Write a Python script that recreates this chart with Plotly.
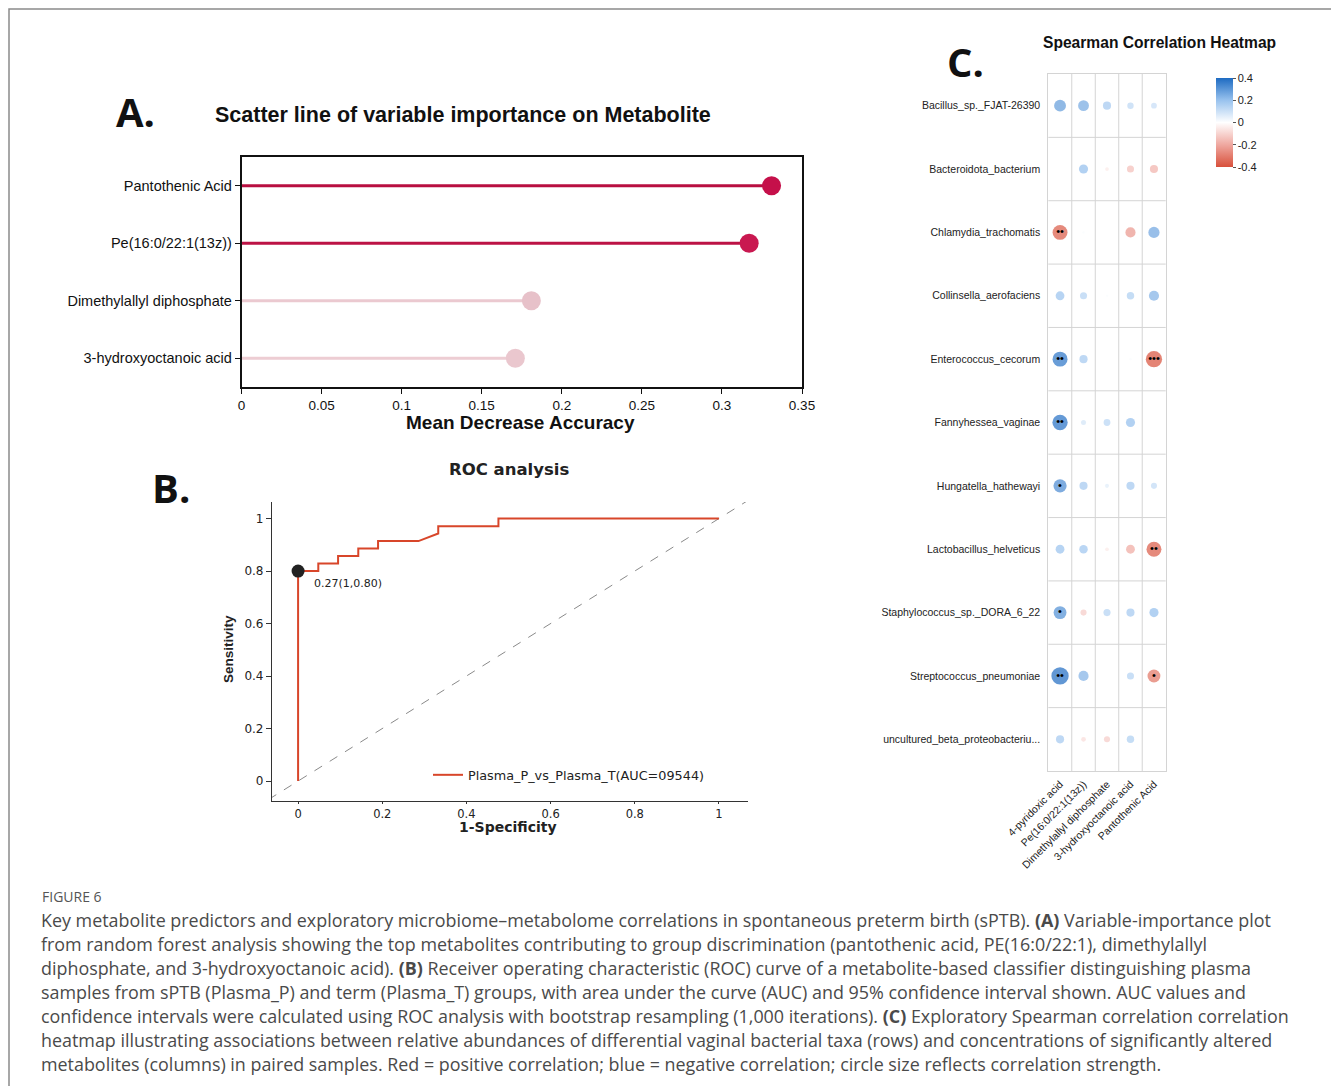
import plotly.graph_objects as go

W, H = 1331, 1086


def px(x):
    return x / W


def py(y):
    return 1 - y / H


# ---------------- Panel A data ----------------
metabolites_A = ["Pantothenic Acid", "Pe(16:0/22:1(13z))",
                 "Dimethylallyl diphosphate", "3-hydroxyoctanoic acid"]
mda_values = [0.331, 0.317, 0.181, 0.171]
dot_colors_A = ["#C5104A", "#C91850", "#E7C1C9", "#EAC7CE"]
stem_colors_A = ["#B80E40", "#BC1245", "#EBC9D0", "#EDCDD3"]
ticks_A = [0, 0.05, 0.1, 0.15, 0.2, 0.25, 0.3, 0.35]
ticklabels_A = ["0", "0.05", "0.1", "0.15", "0.2", "0.25", "0.3", "0.35"]

# ---------------- Panel B data ----------------
roc_fpr = [0, 0, 0.048, 0.048, 0.095, 0.095, 0.143, 0.143, 0.190, 0.190,
           0.286, 0.333, 0.333, 0.476, 0.476, 1.0]
roc_tpr = [0, 0.800, 0.800, 0.829, 0.829, 0.857, 0.857, 0.886, 0.886, 0.914,
           0.914, 0.943, 0.971, 0.971, 1.0, 1.0]
cutoff_fpr = [0]
cutoff_tpr = [0.80]
cutoff_label = "0.27(1,0.80)"
roc_name = "Plasma_P_vs_Plasma_T(AUC=09544)"
ref_line = [-0.07, 1.07]
ticks_B = [0, 0.2, 0.4, 0.6, 0.8, 1]
ticklabels_B = ["0", "0.2", "0.4", "0.6", "0.8", "1"]

# ---------------- Panel C data ----------------
taxa = ["Bacillus_sp._FJAT-26390", "Bacteroidota_bacterium", "Chlamydia_trachomatis",
        "Collinsella_aerofaciens", "Enterococcus_cecorum", "Fannyhessea_vaginae",
        "Hungatella_hathewayi", "Lactobacillus_helveticus", "Staphylococcus_sp._DORA_6_22",
        "Streptococcus_pneumoniae", "uncultured_beta_proteobacteriu..."]
metabolites_C = ["4-pyridoxic acid", "Pe(16:0/22:1(13z))", "Dimethylallyl diphosphate",
                 "3-hydroxyoctanoic acid", "Pantothenic Acid"]
rho = [
    [0.29, 0.26, 0.18, 0.13, 0.11],
    [None, 0.21, -0.05, -0.15, -0.18],
    [-0.38, 0.01, None, -0.24, 0.27],
    [0.20, 0.15, 0.01, 0.16, 0.24],
    [0.38, 0.18, None, 0.01, -0.42],
    [0.39, 0.09, 0.14, 0.21, None],
    [0.33, 0.18, 0.06, 0.18, 0.12],
    [0.20, 0.19, -0.05, -0.20, -0.38],
    [0.32, -0.12, 0.15, 0.18, 0.21],
    [0.45, 0.24, None, 0.15, -0.32],
    [0.18, -0.08, -0.12, 0.16, None],
]
signif = [
    ["", "", "", "", ""],
    ["", "", "", "", ""],
    ["**", "", "", "", ""],
    ["", "", "", "", ""],
    ["**", "", "", "", "***"],
    ["**", "", "", "", ""],
    ["*", "", "", "", ""],
    ["", "", "", "", "**"],
    ["*", "", "", "", ""],
    ["**", "", "", "", "*"],
    ["", "", "", "", ""],
]
cbar_vals = [0.4, 0.2, 0, -0.2, -0.4]
cbar_text = ["0.4", "0.2", "0", "-0.2", "-0.4"]

caption_head = "FIGURE 6"
caption_lines = [
    "Key metabolite predictors and exploratory microbiome\u2013metabolome correlations in spontaneous preterm birth (sPTB). <b>(A)</b> Variable-importance plot",
    "from random forest analysis showing the top metabolites contributing to group discrimination (pantothenic acid, PE(16:0/22:1), dimethylallyl",
    "diphosphate, and 3-hydroxyoctanoic acid). <b>(B)</b> Receiver operating characteristic (ROC) curve of a metabolite-based classifier distinguishing plasma",
    "samples from sPTB (Plasma_P) and term (Plasma_T) groups, with area under the curve (AUC) and 95% confidence interval shown. AUC values and",
    "confidence intervals were calculated using ROC analysis with bootstrap resampling (1,000 iterations). <b>(C)</b> Exploratory Spearman correlation correlation",
    "heatmap illustrating associations between relative abundances of differential vaginal bacterial taxa (rows) and concentrations of significantly altered",
    "metabolites (columns) in paired samples. Red = positive correlation; blue = negative correlation; circle size reflects correlation strength.",
]

ARIAL = "Liberation Sans, Arial, sans-serif"
DEJAVU = "DejaVu Sans, Verdana, sans-serif"

fig = go.Figure()

# ---- Panel A: lollipop ----
fig.add_trace(go.Bar(
    x=mda_values, y=metabolites_A, orientation="h", width=0.055,
    marker=dict(color=stem_colors_A, line=dict(width=0)),
    xaxis="x", yaxis="y", showlegend=False, hoverinfo="skip"))
fig.add_trace(go.Scatter(
    x=mda_values, y=metabolites_A, mode="markers",
    marker=dict(size=19, color=dot_colors_A, line=dict(width=0)),
    xaxis="x", yaxis="y", showlegend=False, cliponaxis=False))

# ---- Panel B: ROC ----
fig.add_trace(go.Scatter(
    x=ref_line, y=ref_line, mode="lines",
    line=dict(color="#8a8a8a", width=1, dash="dash"),
    xaxis="x2", yaxis="y2", showlegend=False, hoverinfo="skip"))
fig.add_trace(go.Scatter(
    x=roc_fpr, y=roc_tpr, mode="lines", name=roc_name,
    line=dict(color="#D8462A", width=2),
    xaxis="x2", yaxis="y2", showlegend=True))
fig.add_trace(go.Scatter(
    x=cutoff_fpr, y=cutoff_tpr, mode="markers",
    marker=dict(size=13, color="#222222"),
    xaxis="x2", yaxis="y2", showlegend=False, cliponaxis=False))

# ---- Panel C: correlation dot heatmap ----
cx, cy, cv, cs = [], [], [], []
sx, sy, st = [], [], []
for i, row in enumerate(rho):
    for j, v in enumerate(row):
        if v is None:
            continue
        cx.append(j)
        cy.append(i)
        cv.append(v)
        cs.append(2 + 34 * abs(v))
        if signif[i][j]:
            sx.append(j)
            sy.append(i)
            st.append("\u2022" * len(signif[i][j]))

colorscale = [[0, "#D8503B"], [0.25, "#EFA8A0"], [0.5, "#FFFFFF"],
              [0.75, "#98C2EE"], [1, "#1E6BC2"]]
fig.add_trace(go.Scatter(
    x=cx, y=cy, mode="markers",
    marker=dict(size=cs, color=cv, colorscale=colorscale, cmin=-0.4, cmax=0.4,
                line=dict(width=0),
                showscale=True,
                colorbar=dict(x=px(1216), xanchor="left", y=py(122.5), yanchor="middle",
                              len=89 / H, lenmode="fraction", thickness=17,
                              outlinewidth=0, xpad=0, ypad=0,
                              tickmode="array", tickvals=cbar_vals, ticktext=cbar_text,
                              ticks="outside", ticklen=3, tickcolor="#555",
                              tickfont=dict(family=ARIAL, size=11, color="#222"))),
    xaxis="x3", yaxis="y3", showlegend=False))
fig.add_trace(go.Scatter(
    x=sx, y=sy, mode="text", text=st, textposition="middle center",
    textfont=dict(family=ARIAL, size=11, color="#000000"),
    xaxis="x3", yaxis="y3", showlegend=False, hoverinfo="skip"))

shapes = []
# panel C cell borders
for k in range(1, 5):
    shapes.append(dict(type="line", xref="x3", yref="y3 domain", x0=k - 0.5, x1=k - 0.5,
                       y0=0, y1=1, line=dict(color="#d4d4d4", width=1), layer="below"))
for k in range(1, 11):
    shapes.append(dict(type="line", xref="x3 domain", yref="y3", x0=0, x1=1,
                       y0=k - 0.5, y1=k - 0.5, line=dict(color="#d4d4d4", width=1), layer="below"))
# page border
shapes.append(dict(type="rect", xref="paper", yref="paper", x0=px(9), x1=px(1340),
                   y0=py(1095), y1=py(9), line=dict(color="#8a8a8a", width=1.5)))

annotations = [
    dict(text="<b>A.</b>", x=px(135), y=py(112), font=dict(family="Open Sans", size=40, color="#111")),
    dict(text="<b>B.</b>", x=px(171), y=py(487), font=dict(family="Open Sans", size=40, color="#111")),
    dict(text="<b>C.</b>", x=px(965), y=py(62), font=dict(family="Open Sans", size=40, color="#111")),
    dict(text="<b>Scatter line of variable importance on Metabolite</b>", x=px(463), y=py(115),
         font=dict(family=ARIAL, size=21.5, color="#111")),
    dict(text="<b>Mean Decrease Accuracy</b>", x=px(520), y=py(422),
         font=dict(family=ARIAL, size=19, color="#111")),
    dict(text="<b>ROC analysis</b>", x=px(509), y=py(469),
         font=dict(family=DEJAVU, size=16.5, color="#222")),
    dict(text="<b>1-Specificity</b>", x=px(508), y=py(827),
         font=dict(family=DEJAVU, size=14, color="#222")),
    dict(text="<b>Sensitivity</b>", x=px(228), y=py(649), textangle=-90,
         font=dict(family=ARIAL, size=13.5, color="#222")),
    dict(text="<b>Spearman Correlation Heatmap</b>", x=px(1159), y=py(43),
         font=dict(family=ARIAL, size=15.6, color="#111")),
    dict(text=cutoff_label, x=cutoff_fpr[0], y=cutoff_tpr[0], xref="x2", yref="y2",
         xanchor="left", yanchor="middle", xshift=14, yshift=-12,
         font=dict(family=DEJAVU, size=11, color="#222")),
    dict(text=caption_head, x=px(40), y=py(897), xanchor="left",
         font=dict(family="Open Sans", size=14, color="#555")),
]
for k, line in enumerate(caption_lines):
    annotations.append(dict(text=line, x=px(39), y=py(920 + 24 * k), xanchor="left",
                            font=dict(family="Open Sans", size=17.9, color="#4a4a4a")))
for a in annotations:
    a.setdefault("xref", "paper")
    a.setdefault("yref", "paper")
    a.setdefault("showarrow", False)
    a.setdefault("xanchor", "center")
    a.setdefault("yanchor", "middle")

fig.update_layout(
    template="none",
    width=W, height=H, autosize=False,
    margin=dict(l=0, r=0, t=0, b=0, pad=0, autoexpand=False),
    paper_bgcolor="white", plot_bgcolor="white",
    shapes=shapes, annotations=annotations,
    legend=dict(x=px(428), y=py(775), xanchor="left", yanchor="middle",
                bgcolor="rgba(0,0,0,0)", borderwidth=0, itemwidth=30,
                font=dict(family=DEJAVU, size=12.8, color="#222")),
    xaxis=dict(domain=[px(241.5), px(802)], anchor="y", range=[0, 0.35], automargin=False,
               tickmode="array", tickvals=ticks_A, ticktext=ticklabels_A,
               showline=True, mirror=True, linecolor="#111", linewidth=1.5,
               ticks="outside", ticklen=5, tickcolor="#111", showgrid=False, zeroline=False,
               tickfont=dict(family=ARIAL, size=13.5, color="#111")),
    yaxis=dict(domain=[py(387), py(157)], anchor="x", type="category", automargin=False,
               categoryorder="array", categoryarray=metabolites_A, range=[3.5, -0.5],
               showline=True, mirror=True, linecolor="#111", linewidth=1.5,
               ticks="outside", ticklen=5, tickcolor="#111", showgrid=False, zeroline=False,
               tickfont=dict(family=ARIAL, size=14.5, color="#111")),
    xaxis2=dict(domain=[px(272), px(748)], anchor="y2", range=[-0.062, 1.069], automargin=False,
                tickmode="array", tickvals=ticks_B, ticktext=ticklabels_B,
                showline=True, linecolor="#333", linewidth=1.2,
                ticks="outside", ticklen=2, tickcolor="#333", showgrid=False, zeroline=False,
                tickfont=dict(family=DEJAVU, size=11.5, color="#222")),
    yaxis2=dict(domain=[py(801), py(502)], anchor="x2", range=[-0.076, 1.063], automargin=False,
                tickmode="array", tickvals=ticks_B, ticktext=ticklabels_B,
                showline=True, linecolor="#333", linewidth=1.2,
                ticks="outside", ticklen=5, tickcolor="#333", showgrid=False, zeroline=False,
                tickfont=dict(family=DEJAVU, size=12, color="#222")),
    xaxis3=dict(domain=[px(1048.3), px(1165.7)], anchor="y3", range=[-0.5, 4.5], automargin=False,
                tickmode="array", tickvals=list(range(len(metabolites_C))), ticktext=metabolites_C,
                tickangle=-45, showline=True, mirror=True, linecolor="#d4d4d4", linewidth=1,
                ticks="outside", ticklen=2, tickcolor="rgba(0,0,0,0)",
                showgrid=False, zeroline=False,
                tickfont=dict(family=ARIAL, size=10.5, color="#222")),
    yaxis3=dict(domain=[py(771), py(74)], anchor="x3", range=[10.5, -0.5], automargin=False,
                tickmode="array", tickvals=list(range(len(taxa))), ticktext=taxa,
                showline=True, mirror=True, linecolor="#d4d4d4", linewidth=1,
                ticks="outside", ticklen=5, tickcolor="rgba(0,0,0,0)",
                showgrid=False, zeroline=False,
                tickfont=dict(family=ARIAL, size=10.5, color="#222")),
)

fig.write_html("out.html", config={"displayModeBar": False},
               post_script="document.body.style.margin='0';")
